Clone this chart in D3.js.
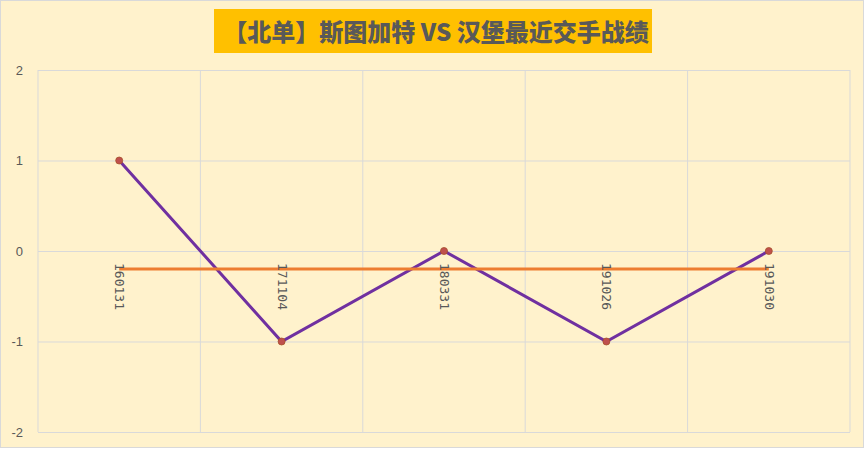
<!DOCTYPE html>
<html>
<head>
<meta charset="utf-8">
<script src="https://cdn.jsdelivr.net/npm/d3@7"></script>
<style>
  body { margin: 0; background: #fff; }
  svg { display: block; font-family: "Noto Sans CJK SC", "DejaVu Sans", sans-serif; }
</style>
</head>
<body>
<div id="chart"></div>
<script>
const title = "【北单】斯图加特 VS 汉堡最近交手战绩"
const categories = ["160131", "171104", "180331", "191026", "191030"]
const results = [1, -1, 0, -1, 0]
const baseline = [-0.2, -0.2, -0.2, -0.2, -0.2]
const yTicks = [-2, -1, 0, 1, 2]

const W = 865, H = 449
const margin = {top: 70, right: 15, bottom: 17, left: 38}
const pxX = W - margin.left - margin.right
const pxY = H - margin.top - margin.bottom

let svg = d3.select("#chart").append("svg")
    .attr("width", W).attr("height", H)

svg.append("rect")
    .attr("x", 0.5).attr("y", 0.5)
    .attr("width", W - 2).attr("height", H - 2)
    .attr("fill", "#FFF2CC")
    .attr("stroke", "#D9D9D9")

// title box
svg.append("rect")
    .attr("x", 214).attr("y", 9)
    .attr("width", 438).attr("height", 44)
    .attr("fill", "#FFC000")
svg.append("text")
    .attr("x", 436).attr("y", 41)
    .attr("text-anchor", "middle")
    .attr("font-size", "24px")
    .attr("font-weight", "900")
    .attr("fill", "#595959")
    .text(title)

let g = svg.append("g")
    .attr("transform", `translate(${margin.left}, ${margin.top})`)

let scX = d3.scaleBand().domain(categories).range([0, pxX])
let scY = d3.scaleLinear().domain([-2, 2]).range([pxY, 0])
let cx = d => scX(d) + scX.bandwidth() / 2

// horizontal grid
const yGrid = d3.axisLeft(scY).tickValues(yTicks).tickSize(-pxX).tickFormat("")
g.append("g").call(yGrid)
    .call(s => s.select(".domain").remove())
    .selectAll("line").attr("stroke", "#D9D9D9")

// vertical grid at category boundaries
const bounds = categories.map(c => scX(c)).concat([pxX])
g.selectAll(".vgrid")
    .data(bounds)
    .enter()
    .append("line")
    .attr("x1", d => d).attr("x2", d => d)
    .attr("y1", 0).attr("y2", pxY)
    .attr("stroke", "#D9D9D9")

// y labels (plain hyphen for negatives)
g.append("g").call(d3.axisLeft(scY).tickValues(yTicks).tickSize(0).tickPadding(15).tickFormat(d => String(d)))
    .call(s => s.select(".domain").remove())
    .selectAll("text")
    .attr("font-size", "13px")
    .attr("fill", "#595959")
    .attr("font-family", "Liberation Sans, Arial, sans-serif")

// result line
let line = d3.line().x((d, i) => cx(categories[i])).y(d => scY(d))
g.append("path")
    .datum(results)
    .attr("d", line)
    .attr("fill", "none")
    .attr("stroke", "#7030A0")
    .attr("stroke-width", 3)

g.selectAll(".pt")
    .data(results)
    .enter()
    .append("circle")
    .attr("cx", (d, i) => cx(categories[i]))
    .attr("cy", d => scY(d))
    .attr("r", 3.5)
    .attr("fill", "#C0504D")
    .attr("stroke", "#A5502A")
    .attr("stroke-width", 0.8)

// baseline
g.append("path")
    .datum(baseline)
    .attr("d", line)
    .attr("fill", "none")
    .attr("stroke", "#ED7D31")
    .attr("stroke-width", 3)

// category labels, rotated, sitting under the zero line
g.selectAll(".cat")
    .data(categories)
    .enter()
    .append("text")
    .attr("transform", d => `translate(${cx(d) - 4}, ${scY(0) + 12}) rotate(90)`)
    .attr("font-size", "13px")
    .attr("font-family", "DejaVu Sans Mono, Liberation Mono, monospace")
    .attr("fill", "#595959")
    .text(d => d)
</script>
</body>
</html>
